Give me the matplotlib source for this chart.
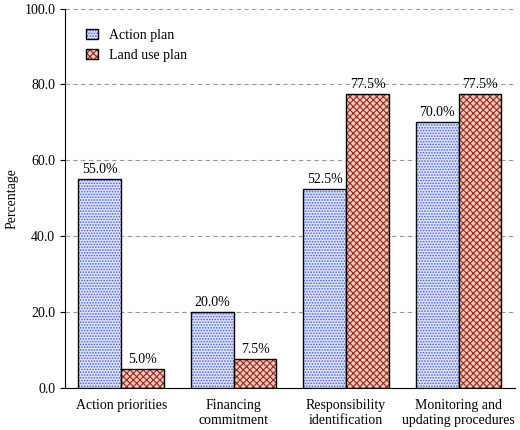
import matplotlib
matplotlib.use("Agg")
import matplotlib.pyplot as plt
import numpy as np

categories = ["Action priorities", "Financing\ncommitment", "Responsibility\nidentification", "Monitoring and\nupdating procedures"]
action_plan = [55.0, 20.0, 52.5, 70.0]
land_use = [5.0, 7.5, 77.5, 77.5]

plt.rcParams['font.family'] = ['Liberation Serif', 'DejaVu Serif']
plt.rcParams['hatch.linewidth'] = 0.8
fig = plt.figure(figsize=(5.2, 4.3), dpi=100)
ax = fig.add_axes([0.125, 0.098, 0.865, 0.882])
x = np.arange(len(categories))
w = 0.38
b1 = ax.bar(x - w/2, action_plan, w, color='#dfe4fa', edgecolor='black', linewidth=1, hatch='......', label='Action plan')
for b in b1:
    b._hatch_color = matplotlib.colors.to_rgba('#4a5fd0')
b2 = ax.bar(x + w/2, land_use, w, color='#eec7bf', edgecolor='black', linewidth=1, hatch='xxxxx', label='Land use plan')
for b in b2:
    b._hatch_color = matplotlib.colors.to_rgba('#9a2a1a')
for bars, vals in ((b1, action_plan), (b2, land_use)):
    for b, v in zip(bars, vals):
        ax.text(b.get_x() + b.get_width()/2, v + 0.8, f"{v:.1f}%", ha='center', va='bottom', fontsize=10)
ax.set_ylim(0, 100)
ax.set_yticks(np.arange(0, 101, 20))
ax.set_yticklabels([f"{t:.1f}" for t in np.arange(0, 101, 20)], fontsize=10)
ax.set_xlim(-0.5, 3.5)
ax.set_xticks(x)
ax.set_xticklabels(categories, fontsize=10)
ax.tick_params(axis='x', length=0, pad=8)
ax.set_ylabel("Percentage", fontsize=10)
ax.yaxis.grid(True, linestyle=(0, (4, 3)), color='#999999', linewidth=0.8)
ax.set_axisbelow(True)
for s in ['top', 'right']:
    ax.spines[s].set_visible(False)
leg = ax.legend(loc='upper left', bbox_to_anchor=(0.02, 0.98), frameon=False, fontsize=10, handlelength=0.8, handleheight=0.8)
fig.savefig("out.png", dpi=100)
